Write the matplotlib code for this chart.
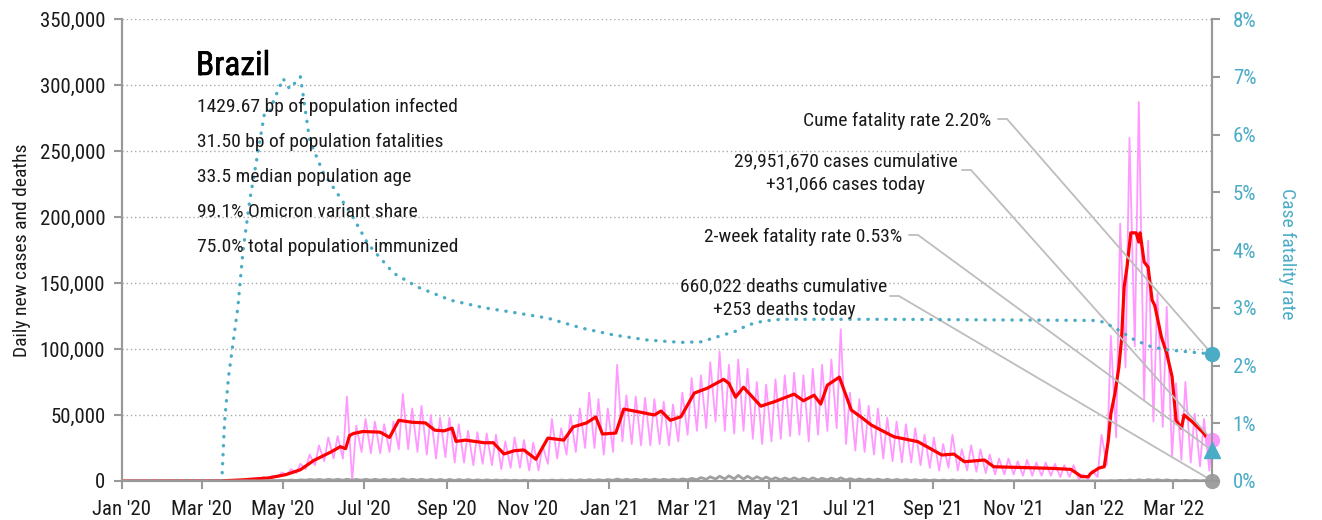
import pandas as pd
import matplotlib
matplotlib.use("Agg")
import matplotlib.pyplot as plt
import matplotlib.dates as mdates
import matplotlib.patheffects as pe
from matplotlib import font_manager
from matplotlib.ticker import FuncFormatter, MultipleLocator

# Headline numbers
COUNTRY = "Brazil"
STATS = [
    "1429.67 bp of population infected",
    "31.50 bp of population fatalities",
    "33.5 median population age",
    "99.1% Omicron variant share",
    "75.0% total population immunized",
]
CASES_CUM = 29951670
CASES_TODAY = 31066
DEATHS_CUM = 660022
DEATHS_TODAY = 253
CUME_CFR = 2.20
TWO_WEEK_CFR = 0.53

FIRST_DAY = "2020-01-01"
LAST_DAY = "2022-03-30"
WEEK0 = "2020-03-02"  # first Monday of the weekly series

# Daily new cases (thousands): weekly trough (Monday) and weekly peak (Thursday)
cases_lo = [
    0, 0.05, 0.2, 0.3, 0.5, 0.8, 1.2, 1.8, 3, 4.5,
    6, 9, 12, 15, 17, 17, 0, 22, 21, 21,
    22, 24, 24, 22, 20, 17, 18, 14, 14, 12,
    13, 12, 9, 10, 10, 8, 8, 13, 17, 20,
    22, 25, 25, 20, 22, 30, 28, 27, 27, 28,
    27, 30, 35, 38, 40, 45, 38, 36, 38, 32,
    28, 30, 32, 34, 35, 30, 35, 38, 40, 28,
    23, 22, 20, 17, 15, 14, 14, 12, 10, 8,
    10, 8, 8, 7, 6, 5, 5, 5, 4, 4,
    4, 4, 3, 3, 1, 1, 3, 12, 33, 86,
    102, 61, 45, 41, 18, 16, 14, 11, 8,
]
cases_hi = [
    0.03, 0.1, 0.4, 0.6, 1.2, 2.0, 3.0, 4.0, 6.5, 9,
    13, 20, 27, 33, 34, 64, 42, 47, 45, 43,
    45, 66, 55, 57, 50, 48, 48, 43, 38, 37,
    36, 35, 30, 33, 31, 29, 27, 47, 40, 50,
    55, 67, 62, 55, 88, 65, 64, 63, 62, 60,
    58, 67, 78, 80, 90, 98, 88, 92, 85, 75,
    73, 77, 80, 82, 80, 85, 88, 92, 115, 67,
    62, 57, 55, 48, 45, 43, 40, 35, 33, 28,
    35, 24, 27, 24, 20, 17, 17, 15, 16, 14,
    14, 13, 12, 12, 5, 8, 35, 110, 195, 260,
    287, 182, 142, 132, 74, 75, 51, 47,
]

# Daily deaths (thousands), same weekly layout
deaths_lo = [
    0, 0, 0, 0.02, 0.05, 0.1, 0.1, 0.2, 0.3, 0.4,
    0.4, 0.6, 0.7, 0.6, 0.7, 0.6, 0.6, 0.6, 0.6, 0.6,
    0.6, 0.6, 0.6, 0.6, 0.5, 0.5, 0.4, 0.4, 0.4, 0.35,
    0.35, 0.3, 0.3, 0.25, 0.2, 0.2, 0.15, 0.3, 0.3, 0.3,
    0.35, 0.4, 0.4, 0.4, 0.5, 0.55, 0.6, 0.6, 0.6, 0.6,
    0.6, 0.7, 0.9, 1.0, 1.3, 1.5, 1.6, 1.6, 1.5, 1.3,
    1.2, 1.0, 0.9, 0.9, 0.8, 0.8, 0.8, 0.9, 0.8, 0.7,
    0.6, 0.55, 0.5, 0.45, 0.4, 0.4, 0.35, 0.3, 0.3, 0.3,
    0.25, 0.2, 0.2, 0.15, 0.15, 0.12, 0.12, 0.1, 0.1, 0.08,
    0.06, 0.06, 0.05, 0.05, 0.03, 0.03, 0.05, 0.08, 0.15, 0.25,
    0.3, 0.35, 0.4, 0.3, 0.2, 0.15, 0.12, 0.1, 0.08,
]
deaths_hi = [
    0, 0, 0.01, 0.06, 0.15, 0.15, 0.2, 0.4, 0.5, 0.75,
    0.85, 1.1, 1.2, 1.3, 1.3, 1.3, 1.2, 1.3, 1.3, 1.3,
    1.3, 1.6, 1.3, 1.3, 1.2, 1.2, 1.2, 1.1, 1.1, 0.9,
    0.9, 0.8, 0.7, 0.6, 0.6, 0.5, 0.5, 0.7, 0.7, 0.8,
    0.9, 1.0, 1.0, 1.1, 1.5, 1.3, 1.3, 1.3, 1.4, 1.3,
    1.4, 1.6, 2.0, 2.6, 3.2, 3.6, 3.9, 4.2, 3.6, 3.3,
    3.0, 2.5, 2.3, 2.4, 2.2, 2.4, 2.1, 2.2, 2.4, 1.8,
    1.6, 1.5, 1.4, 1.3, 1.2, 1.1, 1.0, 0.9, 0.8, 0.7,
    0.8, 0.65, 0.6, 0.55, 0.45, 0.4, 0.4, 0.35, 0.3, 0.3,
    0.3, 0.25, 0.2, 0.2, 0.1, 0.15, 0.2, 0.3, 0.5, 0.7,
    0.9, 1.0, 0.95, 0.85, 0.6, 0.55, 0.45, 0.4,
]

# 7-day average of new cases (thousands)
avg_dates = [
    "2020-01-01", "2020-03-15", "2020-03-31", "2020-04-20", "2020-05-03", "2020-05-14",
    "2020-05-24", "2020-06-06", "2020-06-13", "2020-06-17", "2020-06-20", "2020-06-23",
    "2020-06-30", "2020-07-13", "2020-07-20", "2020-07-27", "2020-08-06", "2020-08-16",
    "2020-08-23", "2020-08-30", "2020-09-05", "2020-09-08", "2020-09-15", "2020-09-29",
    "2020-10-06", "2020-10-14", "2020-10-22", "2020-10-29", "2020-11-07", "2020-11-16",
    "2020-11-28", "2020-12-05", "2020-12-15", "2020-12-22", "2020-12-27", "2021-01-06",
    "2021-01-12", "2021-01-23", "2021-02-04", "2021-02-09", "2021-02-16", "2021-02-24",
    "2021-03-06", "2021-03-16", "2021-03-28", "2021-04-01", "2021-04-06", "2021-04-12",
    "2021-04-25", "2021-05-05", "2021-05-20", "2021-05-27", "2021-06-04", "2021-06-09",
    "2021-06-14", "2021-06-23", "2021-07-02", "2021-07-09", "2021-07-17", "2021-08-03",
    "2021-08-21", "2021-09-08", "2021-09-17", "2021-09-25", "2021-10-10", "2021-10-17",
    "2021-11-04", "2021-11-29", "2021-12-14", "2021-12-22", "2021-12-27", "2021-12-29",
    "2022-01-04", "2022-01-08", "2022-01-11", "2022-01-13", "2022-01-16", "2022-01-19",
    "2022-01-21", "2022-01-23", "2022-01-25", "2022-01-28", "2022-02-01", "2022-02-03",
    "2022-02-04", "2022-02-07", "2022-02-10", "2022-02-13", "2022-02-15", "2022-02-20",
    "2022-02-24", "2022-02-28", "2022-03-03", "2022-03-07", "2022-03-09", "2022-03-15",
    "2022-03-20", "2022-03-24", "2022-03-27", "2022-03-30",
]
avg_cases = [
    0, 0.1, 0.8, 2.3, 4.8, 8.5,
    15.5, 22, 26, 24.5, 34.5, 36,
    37.5, 37, 33, 46, 44.5, 44,
    38.5, 38, 40, 30, 31, 29,
    29, 20.5, 23, 23.5, 16.5, 32.5,
    31, 41, 44, 48.5, 35.6, 36.3,
    54.5, 52.4, 50, 53, 46, 48.7,
    66.6, 70.4, 77, 74, 63.5, 71,
    56.7, 60, 65.8, 60.8, 65, 58.3,
    72.6, 78.7, 53.7, 48.7, 42.4, 33.5,
    29.8, 19.7, 20.4, 14.6, 15.9, 10.8,
    10.3, 9.6, 8.8, 3.3, 3.3, 5.8,
    9.8, 10.8, 30, 51, 66, 86,
    107, 147, 161, 188, 188, 181,
    188, 166, 162, 137, 133, 109,
    96.6, 79, 46, 40, 50, 45,
    40, 36, 31, 26,
]

# Cumulative case fatality rate (%)
cfr_dates = [
    "2020-01-01", "2020-03-16", "2020-03-18", "2020-03-21", "2020-03-28", "2020-04-01",
    "2020-04-06", "2020-04-12", "2020-04-17", "2020-04-21", "2020-04-23", "2020-05-01",
    "2020-05-06", "2020-05-14", "2020-05-16", "2020-05-21", "2020-05-31", "2020-06-21",
    "2020-07-04", "2020-07-23", "2020-08-10", "2020-09-04", "2020-09-29", "2020-10-21",
    "2020-11-16", "2020-12-11", "2021-01-04", "2021-01-30", "2021-02-24", "2021-03-11",
    "2021-04-07", "2021-04-15", "2021-04-27", "2021-05-10", "2021-08-01", "2021-12-31",
    "2022-01-08", "2022-01-19", "2022-01-31", "2022-02-13", "2022-02-25", "2022-03-15",
]
cfr_values = [
    0, 0, 1.0, 1.8, 3.0, 4.0,
    4.86, 5.67, 6.36, 6.39, 6.53, 6.97,
    6.79, 7.0, 6.7, 5.9, 5.35, 4.63,
    4.1, 3.6, 3.36, 3.13, 3.0, 2.92,
    2.82, 2.65, 2.53, 2.44, 2.40, 2.41,
    2.6, 2.7, 2.77, 2.8, 2.8, 2.78,
    2.75, 2.61, 2.44, 2.32, 2.27, 2.23,
]

TEAL = "#4bacc6"
PINK = "#ff99ff"
RED = "#ff0000"
GREY = "#a0a0a0"
AXIS_GREY = "#999999"
LEADER = "#bdbdbd"
INK = "#1a1a1a"
TEXT_SIZE = 14

W, H = 1322, 520


def pick_family():
    fonts = font_manager.fontManager.ttflist
    names = {f.name for f in fonts}
    for name in ("Roboto Condensed", "Liberation Sans Narrow", "Noto Sans Condensed",
                 "DejaVu Sans Condensed", "Open Sans Condensed"):
        if name in names:
            return name, "normal"
    narrow = {f.name for f in fonts if "condensed" in str(f.stretch)}
    for name in ("Roboto", "Noto Sans", "Open Sans", "DejaVu Sans"):
        if name in narrow:
            return name, "condensed"
    return "Roboto", "normal"


def weekly_series(lo, hi, today):
    mondays = pd.date_range(WEEK0, periods=len(lo), freq="7D")
    thursdays = mondays[:len(hi)] + pd.Timedelta(days=3)
    s = pd.concat([pd.Series(lo, index=mondays), pd.Series(hi, index=thursdays)]) * 1000
    s[pd.Timestamp(FIRST_DAY)] = 0
    s[pd.Timestamp(LAST_DAY)] = today
    return s.sort_index()


def at(x, y):
    # position given in pixels from the top-left corner of the figure
    return x / W, 1 - y / H


family, stretch = pick_family()
plt.rcParams["font.family"] = [family, "DejaVu Sans"]
plt.rcParams["font.stretch"] = stretch

cases = weekly_series(cases_lo, cases_hi, CASES_TODAY)
deaths = weekly_series(deaths_lo, deaths_hi, DEATHS_TODAY)
avg = pd.Series(avg_cases, index=pd.to_datetime(avg_dates)) * 1000
cfr = pd.Series(cfr_values + [CUME_CFR], index=pd.to_datetime(cfr_dates + [LAST_DAY]))
last = pd.Timestamp(LAST_DAY)

fig = plt.figure(figsize=(W / 100, H / 100), dpi=100)
ax = fig.add_axes([122 / W, 39 / H, 1090 / W, 462 / H])
ax2 = ax.twinx()

ax.plot(cases.index, cases.values, color=PINK, lw=1.3, zorder=2)
ax.plot(avg.index, avg.values, color=RED, lw=2.3, zorder=3)
ax.plot(deaths.index, deaths.values, color=GREY, lw=2, zorder=4)
ax2.plot(cfr.index, cfr.values, color=TEAL, lw=2.4, linestyle=(0, (0.1, 2.6)),
         dash_capstyle="round")

# left axis
ax.set_xlim(pd.Timestamp(FIRST_DAY), last)
ax.set_ylim(0, 350000)
ax.yaxis.set_major_locator(MultipleLocator(50000))
ax.yaxis.set_major_formatter(FuncFormatter(lambda v, p: f"{v:,.0f}"))
ax.grid(axis="y", color="#aaaaaa", linestyle=(0, (1, 2)), lw=1)
ax.set_axisbelow(True)
ax.xaxis.set_major_locator(mdates.MonthLocator(bymonth=[1, 3, 5, 7, 9, 11]))
ax.xaxis.set_major_formatter(mdates.DateFormatter("%b '%y"))

# right axis
ax2.set_ylim(0, 8)
ax2.yaxis.set_major_locator(MultipleLocator(1))
ax2.yaxis.set_major_formatter(FuncFormatter(lambda v, p: f"{v:.0f}%"))

for a in (ax, ax2):
    a.spines["top"].set_visible(False)
    for side in ("left", "right", "bottom"):
        a.spines[side].set_color(AXIS_GREY)
        a.spines[side].set_linewidth(1.5)
ax.tick_params(axis="both", colors=AXIS_GREY, labelcolor=INK, labelsize=15,
               length=6, width=1.5)
ax.tick_params(axis="x", pad=8)
ax.tick_params(axis="y", pad=6)
ax2.tick_params(axis="y", colors=AXIS_GREY, labelcolor=TEAL, labelsize=15,
                length=6, width=1.5, pad=9)

fig.text(*at(22, 250), "Daily new cases and deaths", rotation=90, ha="center",
         va="center", fontsize=14, color=INK)
fig.text(*at(1287, 254), "Case fatality rate", rotation=270, ha="center",
         va="center", fontsize=14, color=TEAL)

# country block
fig.text(*at(196, 75), COUNTRY, fontsize=24, color="black", va="baseline",
         path_effects=[pe.withStroke(linewidth=0.45, foreground="black")])
for i, line in enumerate(STATS):
    fig.text(*at(197, 112 + 35 * i), line, fontsize=TEXT_SIZE, color=INK,
             va="baseline")

# callouts with leader lines to the latest values
fig.text(*at(991, 126), f"Cume fatality rate {CUME_CFR:.2f}%", ha="right",
         va="baseline", fontsize=TEXT_SIZE, color=INK)
fig.text(*at(846, 166), f"{CASES_CUM:,} cases cumulative", ha="center",
         va="baseline", fontsize=TEXT_SIZE, color=INK)
fig.text(*at(846, 190), f"+{CASES_TODAY:,} cases today", ha="center",
         va="baseline", fontsize=TEXT_SIZE, color=INK)
fig.text(*at(902, 242), f"2-week fatality rate {TWO_WEEK_CFR:.2f}%", ha="right",
         va="baseline", fontsize=TEXT_SIZE, color=INK)
fig.text(*at(784, 291), f"{DEATHS_CUM:,} deaths cumulative", ha="center",
         va="baseline", fontsize=TEXT_SIZE, color=INK)
fig.text(*at(784, 315), f"+{DEATHS_TODAY:,} deaths today", ha="center",
         va="baseline", fontsize=TEXT_SIZE, color=INK)

leader = dict(arrowstyle="-", color=LEADER, lw=1.3, shrinkA=0, shrinkB=0,
              connectionstyle="arc,angleA=0,armA=9,rad=0")
ax2.annotate("", xy=(last, CUME_CFR), xytext=at(998, 119),
             textcoords="figure fraction", arrowprops=leader, annotation_clip=False)
ax.annotate("", xy=(last, CASES_TODAY), xytext=at(962, 170),
            textcoords="figure fraction", arrowprops=leader, annotation_clip=False)
ax2.annotate("", xy=(last, TWO_WEEK_CFR), xytext=at(909, 235),
             textcoords="figure fraction", arrowprops=leader, annotation_clip=False)
ax.annotate("", xy=(last, DEATHS_TODAY), xytext=at(890, 296),
            textcoords="figure fraction", arrowprops=leader, annotation_clip=False)

# markers on the latest values
ax.plot([last], [CASES_TODAY], "o", color=PINK, ms=10, clip_on=False, zorder=6)
ax.plot([last], [DEATHS_TODAY], "o", color=GREY, ms=10, clip_on=False, zorder=6)
ax2.plot([last], [CUME_CFR], "o", color=TEAL, ms=10, clip_on=False, zorder=6)
ax2.plot([last], [TWO_WEEK_CFR], "^", color=TEAL, ms=11, clip_on=False, zorder=6)

fig.savefig("out.png", dpi=100)
